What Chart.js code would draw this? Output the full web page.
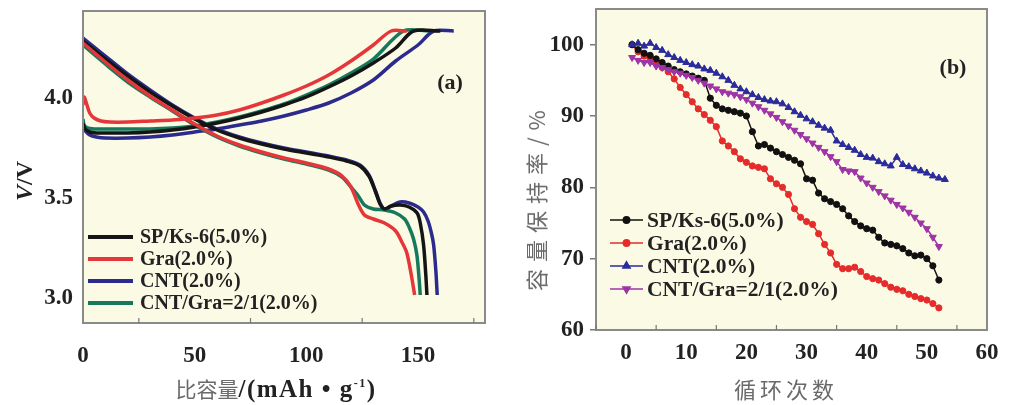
<!DOCTYPE html>
<html><head><meta charset="utf-8">
<script src="https://cdn.jsdelivr.net/npm/chart.js@4.4.1/dist/chart.umd.min.js"></script>
<style>
body{margin:0;background:#fff;width:1016px;height:405px;position:relative;overflow:hidden}
#c1{position:absolute;left:0;top:0}
#c2{position:absolute;left:500px;top:0}
.t{position:absolute;white-space:nowrap;transform:translate(-50%,-50%);line-height:1}
.cn{font-family:"Noto Sans CJK SC";color:#6a6a6a;font-weight:400}
.sf{font-family:"Liberation Serif";font-weight:bold;color:#222}
</style></head><body>
<canvas id="c1" width="500" height="405"></canvas>
<canvas id="c2" width="516" height="405"></canvas>
<div class="t" style="left:276px;top:388px"><span class="cn" style="font-size:21px">比容量</span><span class="sf" style="font-size:25px;letter-spacing:1.5px">/(mAh • g<sup style="font-size:12px">-1</sup>)</span></div>
<div class="t sf" style="left:24px;top:181px;font-size:24px;transform:translate(-50%,-50%) rotate(-90deg)"><i>V</i>/V</div>
<div class="t cn" style="left:786px;top:388px;font-size:22px;letter-spacing:4px">循环次数</div>
<div class="t cn" style="left:535px;top:197px;font-size:22px;letter-spacing:7px;transform:translate(-50%,-50%) rotate(-90deg)">容量保持率/%</div>
<div class="t sf" style="left:450px;top:82px;font-size:22px">(a)</div>
<div class="t sf" style="left:953px;top:67px;font-size:22px">(b)</div>
<script>
// ---------- Panel (a): charge / discharge curves ----------
const names = ["SP/Ks-6(5.0%)", "Gra(2.0%)", "CNT(2.0%)", "CNT/Gra=2/1(2.0%)"];
const colorsA = ["#151515", "#e5363a", "#2c2a8c", "#16795c"];

const capSpCh = [0, 1, 3, 6, 10, 20, 30, 40, 50, 60, 70, 80, 90, 100, 110, 120, 130, 140, 148, 160];
const vSpCh   = [3.86, 3.83, 3.815, 3.81, 3.81, 3.81, 3.815, 3.825, 3.84, 3.86, 3.885, 3.915, 3.95, 3.99, 4.04, 4.095, 4.16, 4.235, 4.32, 4.32];
const capGraCh = [0, 0.5, 1.5, 3, 5, 8, 12, 20, 30, 40, 50, 60, 70, 80, 90, 100, 110, 120, 130, 138, 145];
const vGraCh   = [3.95, 3.99, 3.96, 3.91, 3.885, 3.87, 3.865, 3.865, 3.87, 3.875, 3.885, 3.90, 3.925, 3.96, 4.0, 4.045, 4.1, 4.17, 4.25, 4.32, 4.32];
const capCntCh = [0, 1, 3, 6, 10, 20, 30, 40, 50, 60, 70, 80, 90, 100, 110, 120, 130, 140, 150, 157, 166];
const vCntCh   = [3.84, 3.82, 3.80, 3.79, 3.785, 3.785, 3.79, 3.80, 3.815, 3.83, 3.85, 3.87, 3.895, 3.925, 3.96, 4.01, 4.075, 4.17, 4.25, 4.32, 4.32];
const capMixCh = [0, 0.5, 2, 5, 10, 20, 30, 40, 50, 60, 70, 80, 90, 100, 110, 120, 130, 143.5, 155];
const vMixCh   = [3.88, 3.85, 3.835, 3.83, 3.83, 3.83, 3.83, 3.835, 3.845, 3.865, 3.89, 3.92, 3.955, 4.0, 4.05, 4.11, 4.18, 4.32, 4.32];

const capSpDis = [0, 10, 20, 30, 40, 50, 60, 70, 80, 90, 100, 110, 118, 124, 128, 131, 133, 135, 138, 142, 146, 149.6, 151, 152.5, 153.5, 154];
const vSpDis   = [4.27, 4.18, 4.095, 4.015, 3.945, 3.88, 3.825, 3.785, 3.755, 3.73, 3.71, 3.69, 3.67, 3.645, 3.595, 3.515, 3.455, 3.43, 3.445, 3.45, 3.44, 3.41, 3.36, 3.25, 3.1, 3.0];
const capGraDis = [0, 10, 20, 30, 40, 50, 60, 70, 80, 90, 100, 110, 116, 120, 123, 126, 130, 135, 140, 143, 145, 147, 148.5];
const vGraDis   = [4.26, 4.165, 4.075, 3.995, 3.925, 3.855, 3.795, 3.75, 3.715, 3.685, 3.66, 3.63, 3.595, 3.54, 3.46, 3.40, 3.38, 3.36, 3.32, 3.26, 3.21, 3.10, 3.0];
const capCntDis = [0, 10, 20, 30, 40, 50, 60, 70, 80, 90, 100, 110, 118, 124, 128, 131, 133, 135, 138, 142, 146, 150, 152.5, 154.5, 156, 157, 158, 158.6];
const vCntDis   = [4.285, 4.195, 4.105, 4.025, 3.95, 3.885, 3.83, 3.79, 3.76, 3.735, 3.715, 3.695, 3.675, 3.65, 3.6, 3.52, 3.46, 3.43, 3.445, 3.465, 3.46, 3.44, 3.415, 3.37, 3.31, 3.25, 3.12, 3.0];
const capMixDis = [0, 10, 20, 30, 40, 50, 60, 70, 80, 90, 100, 110, 116, 120, 123, 126, 130, 135, 140, 144, 146, 148, 149.5, 150.5, 151];
const vMixDis   = [4.25, 4.155, 4.065, 3.99, 3.92, 3.85, 3.79, 3.745, 3.71, 3.68, 3.655, 3.625, 3.59, 3.54, 3.50, 3.45, 3.43, 3.425, 3.41, 3.38, 3.34, 3.28, 3.2, 3.08, 3.0];

const xTicksA = [0, 50, 100, 150];
const yTicksA = [3.0, 3.5, 4.0];
const xMinorA = [25, 75, 125, 175];

// ---------- Panel (b): capacity retention ----------
const cycSp  = [1,2,3,4,5,6,7,8,9,10,11,12,13,14,15,16,17,18,19,20,21,22,23,24,25,26,27,28,29,30,31,32,33,34,35,36,37,38,39,40,41,42,43,44,45,46,47,48,49,50,51,52];
const retSp  = [100,99.3,98.8,98.5,98.0,97.5,97.0,96.5,96.2,95.9,95.6,95.3,95.0,92.5,91.5,91.0,90.8,90.6,90.4,90.0,87.8,85.8,86.0,85.5,85.0,84.6,84.2,83.8,83.3,81.2,81.0,79.2,78.4,78.0,77.6,77.0,76.0,75.2,74.6,74.2,74.0,73.0,72.2,72.0,71.8,71.4,70.8,70.4,70.5,70.0,69.0,67.0];
const retGra = [100,99.0,98.4,97.8,97.3,96.8,96.2,95.2,94.0,93.0,92.0,91.0,90.2,89.4,88.5,86.5,85.8,85.0,84.0,83.5,83.0,82.8,82.6,81.2,80.5,80.0,79.0,77.0,75.8,75.2,74.8,73.5,72.0,70.8,69.2,68.6,68.6,68.8,68.2,67.5,67.2,67.0,66.5,66.0,65.7,65.5,65.0,64.7,64.4,64.2,63.7,63.1];
const cycCnt = [1,2,3,4,5,6,7,8,9,10,11,12,13,14,15,16,17,18,19,20,21,22,23,24,25,26,27,28,29,30,31,32,33,34,35,36,37,38,39,40,41,42,43,44,45,46,47,48,49,50,51,52,53];
const retCnt = [100,100.2,99.8,100.2,99.6,99.2,98.6,98.2,97.8,97.5,97.2,97.0,96.6,96.4,96.0,95.5,95.0,94.3,93.8,93.4,93.0,92.6,92.3,92.1,92.0,91.7,91.2,90.6,90.1,89.6,89.2,88.7,88.3,88.0,86.5,86.0,85.6,85.2,84.6,84.2,84.1,83.6,83.3,83.0,84.2,83.2,82.9,82.6,82.3,82.0,81.6,81.3,81.1];
const retMix = [98.2,97.8,97.5,97.5,97.0,96.8,96.5,96.2,96.0,95.7,95.4,95.0,94.6,94.2,93.8,93.4,93.2,93.0,92.7,92.3,91.8,91.3,90.8,90.3,89.8,89.2,88.6,88.0,87.4,86.8,86.2,85.6,85.0,84.3,83.6,82.5,82.3,82.2,81.3,80.6,80.0,79.4,78.8,78.2,77.6,77.1,76.5,75.8,75.0,74.2,73.0,71.7];

const xTicksB = [0, 10, 20, 30, 40, 50, 60];
const yTicksB = [60, 70, 80, 90, 100];
const colorsB = ["#111111", "#e52b2b", "#2b2b9b", "#9e34a6"];
const stylesB = ["circle", "circle", "triangle", "triangle"];
const rotB = [0, 0, 0, 180];

const pts = (xs, ys) => xs.map((x, i) => ({x: x, y: ys[i]}));
const noPad = s => { s.paddingTop = 0; s.paddingBottom = 0; s.paddingLeft = 0; s.paddingRight = 0; };

const plotBg = '#fbfbe5';
const frame = {
  id: 'frame',
  beforeDraw(chart) {
    const a = chart.chartArea, c = chart.ctx;
    c.save(); c.fillStyle = plotBg; c.fillRect(a.left, a.top, a.right - a.left, a.bottom - a.top); c.restore();
  },
  afterDraw(chart, args, opts) {
    const a = chart.chartArea, c = chart.ctx;
    c.save();
    c.strokeStyle = '#8a8a8a'; c.lineWidth = 2;
    c.strokeRect(a.left, a.top, a.right - a.left, a.bottom - a.top);
    const xs = chart.scales.x;
    c.lineWidth = 1.2; c.strokeStyle = '#777';
    (opts.minor || []).forEach(v => {
      const px = xs.getPixelForValue(v);
      c.beginPath(); c.moveTo(px, a.bottom); c.lineTo(px, a.bottom - 5); c.stroke();
    });
    // legend
    const L = opts.legend;
    c.font = 'bold ' + L.size + 'px "Liberation Serif"';
    c.textBaseline = 'middle';
    L.rows.forEach((y, i) => {
      c.strokeStyle = L.colors[i]; c.lineWidth = L.lw;
      c.beginPath(); c.moveTo(L.x0, y); c.lineTo(L.x1, y); c.stroke();
      if (L.styles) {
        c.fillStyle = L.colors[i];
        Chart.helpers.drawPoint(c, {pointStyle: L.styles[i], radius: L.radius[i], rotation: L.rot[i], borderWidth: 1}, (L.x0 + L.x1) / 2, y);
      }
      c.fillStyle = '#222';
      c.fillText(names[i], L.tx, y + 1);
    });
    c.restore();
  }
};

const tickFont = {family: 'Liberation Serif', weight: 'bold', size: 23};

// Panel (a)
const dsA = [
  [capSpCh, vSpCh, capSpDis, vSpDis],
  [capGraCh, vGraCh, capGraDis, vGraDis],
  [capCntCh, vCntCh, capCntDis, vCntDis],
  [capMixCh, vMixCh, capMixDis, vMixDis]
];
const datasetsA = [];
[1, 0, 3, 2].forEach(k => {
  const d = dsA[k];
  datasetsA.push({data: pts(d[0], d[1]), borderColor: colorsA[k], borderWidth: 3.5, showLine: true, pointRadius: 0, tension: 0.3});
  datasetsA.push({data: pts(d[2], d[3]), borderColor: colorsA[k], borderWidth: 3.5, showLine: true, pointRadius: 0, tension: 0.3});
});

new Chart(document.getElementById('c1'), {
  type: 'scatter',
  data: {datasets: datasetsA},
  options: {
    responsive: false, animation: false, devicePixelRatio: 1,
    layout: {padding: {left: 0, top: 11, right: 15, bottom: 0}},
    plugins: {
      legend: {display: false}, tooltip: {enabled: false},
      frame: {minor: xMinorA, legend: {rows: [237, 259, 281, 303], x0: 88, x1: 133, tx: 140, lw: 4, size: 20, colors: colorsA}}
    },
    scales: {
      x: {type: 'linear', min: 0, max: 180,
          afterFit: s => { s.height = 82; noPad(s); },
          afterBuildTicks: s => { s.ticks = xTicksA.map(v => ({value: v})); },
          grid: {display: false, drawTicks: false},
          border: {display: false},
          ticks: {font: tickFont, color: '#222', padding: 19, maxRotation: 0, callback: v => String(v)}},
      y: {type: 'linear', min: 2.86, max: 4.42,
          afterFit: s => { s.width = 83; noPad(s); },
          afterBuildTicks: s => { s.ticks = yTicksA.map(v => ({value: v})); },
          grid: {display: false, drawTicks: false},
          border: {display: false},
          ticks: {font: tickFont, color: '#222', padding: 10, labelOffset: 3, callback: v => Number(v).toFixed(1)}}
    }
  },
  plugins: [frame]
});

// Panel (b)
const seriesB = [[cycSp, retSp], [cycSp, retGra], [cycCnt, retCnt], [cycSp, retMix]];
const datasetsB = [3, 2, 0, 1].map(k => ({
  data: pts(seriesB[k][0], seriesB[k][1]),
  borderColor: colorsB[k], backgroundColor: colorsB[k], borderWidth: 1.5, showLine: true,
  pointStyle: stylesB[k], rotation: rotB[k], pointRadius: k < 2 ? 3.1 : 4.0, pointBorderWidth: 1
}));

new Chart(document.getElementById('c2'), {
  type: 'scatter',
  data: {datasets: datasetsB},
  options: {
    responsive: false, animation: false, devicePixelRatio: 1,
    layout: {padding: {left: 0, top: 9, right: 29, bottom: 0}},
    plugins: {
      legend: {display: false}, tooltip: {enabled: false},
      frame: {minor: [-5, 5, 15, 25, 35, 45, 55], legend: {rows: [220, 243, 266, 289], x0: 110, x1: 143, tx: 147, lw: 1.5, size: 21.5, colors: colorsB, styles: stylesB, radius: [3.2, 3.2, 4.2, 4.2], rot: rotB}}
    },
    scales: {
      x: {type: 'linear', min: -5, max: 60,
          afterFit: s => { s.height = 75; noPad(s); },
          afterBuildTicks: s => { s.ticks = xTicksB.map(v => ({value: v})); },
          grid: {drawOnChartArea: false, drawTicks: false},
          border: {display: false},
          ticks: {font: tickFont, color: '#222', padding: 9, maxRotation: 0, callback: v => String(v)}},
      y: {type: 'linear', min: 60, max: 105,
          afterFit: s => { s.width = 96; noPad(s); },
          afterBuildTicks: s => { s.ticks = yTicksB.map(v => ({value: v})); },
          grid: {drawOnChartArea: false, drawTicks: true, tickLength: 6, color: '#777', lineWidth: 1.5},
          border: {display: false},
          ticks: {font: tickFont, color: '#222', padding: 6, callback: v => String(v)}}
    }
  },
  plugins: [frame]
});
</script>
</body></html>
